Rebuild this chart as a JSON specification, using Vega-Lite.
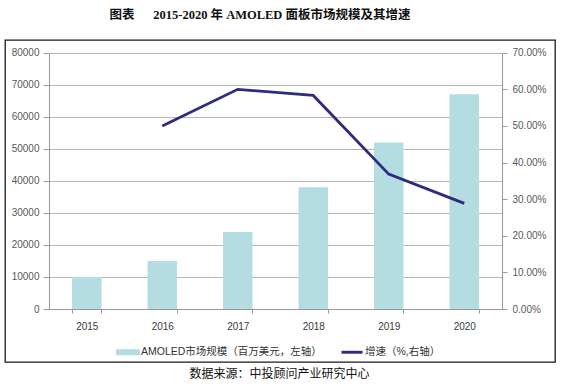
{
  "$schema": "https://vega.github.io/schema/vega-lite/v6.json",
  "width": 550,
  "height": 322,
  "autosize": "none",
  "padding": {"left": 5, "top": 40, "right": 7, "bottom": 22},
  "background": "white",
  "config": {
    "view": {"stroke": "#1a1a1a", "strokeWidth": 1.3},
    "font": "Liberation Sans"
  },
  "title": {
    "text": "图表\u00a0\u00a0\u00a0\u00a0\u00a0\u00a02015-2020 年 AMOLED 面板市场规模及其增速",
    "font": "Liberation Serif, Noto Sans CJK SC",
    "fontSize": 12.5,
    "fontWeight": "bold",
    "color": "#111111",
    "anchor": "middle",
    "dx": -20,
    "offset": 19
  },
  "data": {
    "values": [
      {"year": "2015", "size": 10000, "growth": null},
      {"year": "2016", "size": 15000, "growth": 0.5},
      {"year": "2017", "size": 24000, "growth": 0.6},
      {"year": "2018", "size": 38000, "growth": 0.5833},
      {"year": "2019", "size": 52000, "growth": 0.3684},
      {"year": "2020", "size": 67000, "growth": 0.2885}
    ]
  },
  "encoding": {
    "x": {
      "field": "year",
      "type": "nominal",
      "scale": {"range": [44, 497], "paddingInner": 0.61, "paddingOuter": 0.305},
      "axis": {
        "orient": "bottom",
        "offset": -53,
        "labelAngle": 0,
        "labelFontSize": 10,
        "labelColor": "#3a3a3a",
        "labelPadding": 8,
        "tickBand": "extent",
        "tickSize": 4,
        "tickColor": "#999999",
        "domainColor": "#999999",
        "grid": false,
        "title": "数据来源：中投顾问产业研究中心",
        "titleFont": "Noto Sans CJK SC",
        "titleFontSize": 12,
        "titleFontWeight": "normal",
        "titleColor": "#111111",
        "titleX": 274,
        "titleY": 64.5,
        "titleBaseline": "middle",
        "titleAlign": "center",
        "titleAnchor": null
      }
    }
  },
  "layer": [
    {
      "mark": {"type": "bar"},
      "encoding": {
        "y": {
          "field": "size",
          "type": "quantitative",
          "scale": {"domain": [0, 80000], "range": [269, 12.7], "nice": false},
          "axis": {
            "orient": "left",
            "offset": -44,
            "title": null,
            "grid": true,
            "gridColor": "#b5b5b5",
            "gridWidth": 1,
            "values": [0, 10000, 20000, 30000, 40000, 50000, 60000, 70000, 80000],
            "format": "d",
            "labelFontSize": 10,
            "labelColor": "#595959",
            "labelPadding": 4,
            "tickSize": 6,
            "tickColor": "#999999",
            "domainColor": "#999999"
          }
        },
        "color": {
          "datum": "AMOLED市场规模（百万美元，左轴）",
          "scale": {
            "domain": ["AMOLED市场规模（百万美元，左轴）", "增速（%,右轴）"],
            "range": ["#B3DDE1", "#2E2B7F"]
          },
          "legend": {
            "orient": "none",
            "legendX": 111,
            "legendY": 300,
            "direction": "horizontal",
            "title": null,
            "symbolSize": 576,
            "labelFontSize": 10.5,
            "labelFont": "Liberation Sans, Noto Sans CJK SC",
            "labelColor": "#333333",
            "labelOffset": 1,
            "labelLimit": 0,
            "columnPadding": 18,
            "encode": {
              "symbols": {
                "update": {
                  "shape": {"signal": "datum.value === '增速（%,右轴）' ? 'M-0.875,-0.12H0.875V0.12H-0.875Z' : 'M-1,-0.25H1V0.25H-1Z'"},
                  "fill": {"scale": "color", "field": "value"},
                  "stroke": {"value": "transparent"},
                  "strokeWidth": {"value": 0},
                  "opacity": {"value": 1}
                }
              }
            }
          }
        }
      }
    },
    {
      "mark": {"type": "line", "strokeWidth": 2.8},
      "encoding": {
        "y": {
          "field": "growth",
          "type": "quantitative",
          "scale": {"domain": [0, 0.7], "range": [269, 12.7], "nice": false},
          "axis": {
            "orient": "right",
            "offset": -53,
            "title": null,
            "grid": false,
            "values": [0, 0.1, 0.2, 0.3, 0.4, 0.5, 0.6, 0.7],
            "format": ".2%",
            "labelFontSize": 10,
            "labelColor": "#595959",
            "labelPadding": 5,
            "tickSize": 5,
            "tickColor": "#999999",
            "domainColor": "#999999"
          }
        },
        "color": {"datum": "增速（%,右轴）"}
      }
    }
  ],
  "resolve": {"scale": {"y": "independent"}}
}
